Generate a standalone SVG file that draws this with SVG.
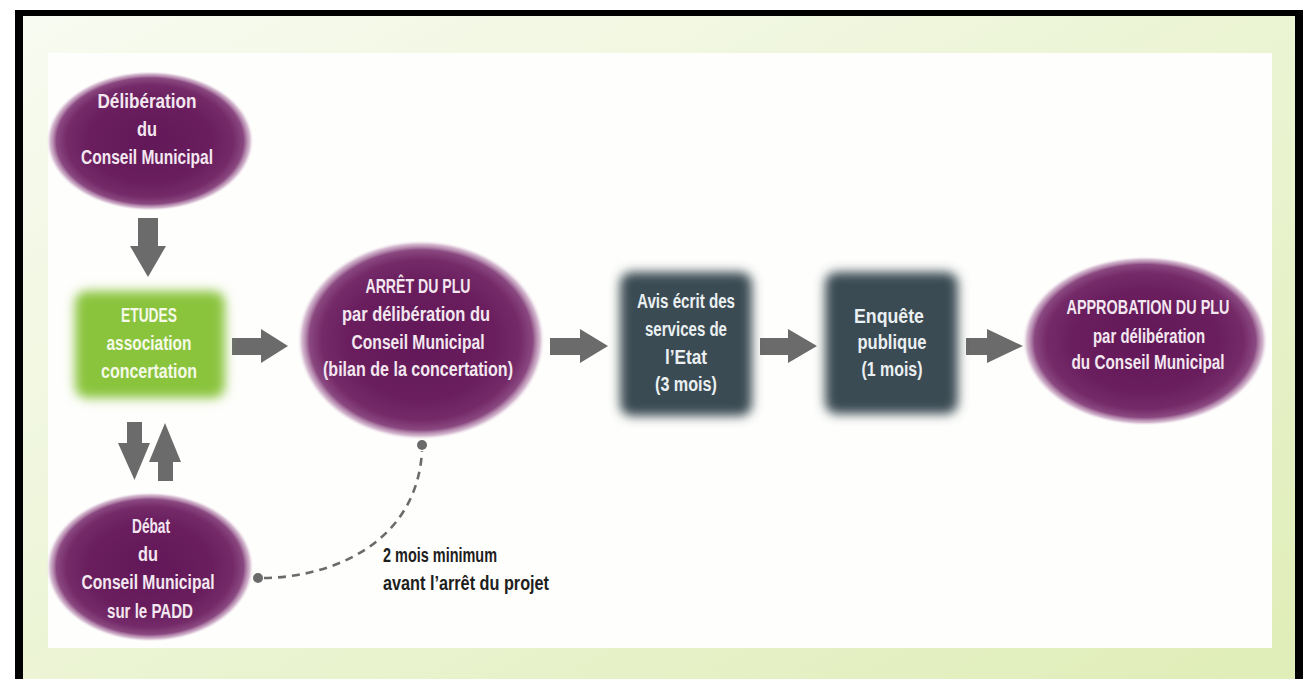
<svg xmlns="http://www.w3.org/2000/svg" width="1310" height="679" viewBox="0 0 1310 679">
  <defs>
    <linearGradient id="bgG" x1="0" y1="0" x2="1" y2="1">
      <stop offset="0" stop-color="#f8fbf1"/>
      <stop offset="1" stop-color="#dfedb6"/>
    </linearGradient>
    <radialGradient id="purG" cx="0.5" cy="0.5" r="0.5">
      <stop offset="0" stop-color="#621758"/>
      <stop offset="0.6" stop-color="#6a1e5e"/>
      <stop offset="0.8" stop-color="#742a68"/>
      <stop offset="0.9" stop-color="#8a4880"/>
      <stop offset="0.96" stop-color="#c39cbd" stop-opacity="0.7"/>
      <stop offset="1" stop-color="#ffffff" stop-opacity="0"/>
    </radialGradient>
    <filter id="blur" x="-20%" y="-20%" width="140%" height="140%">
      <feGaussianBlur stdDeviation="5.5"/>
    </filter>
    <style>
      .t { font-family: "Liberation Sans Narrow", "Liberation Sans", Arial, sans-serif; font-weight: bold; font-size: 20px; text-anchor: middle; }
      .tp { fill: #f3e7f0; }
      .tg { fill: #f5f9e8; }
      .td { fill: #eaf0f2; }
      .cap { font-family: "Liberation Sans Narrow", "Liberation Sans", Arial, sans-serif; font-weight: bold; font-size: 20px; fill: #1e1e1e; }
      .arr { fill: #6b6b6b; }
      .dash { fill: none; stroke: #6b6b6b; stroke-width: 2.6; stroke-dasharray: 8 6; }
      .dot { fill: #6b6b6b; }
    </style>
  </defs>

  <!-- frame -->
  <rect x="0" y="0" width="1310" height="679" fill="#ffffff"/>
  <rect x="15" y="10" width="1288" height="700" fill="#000000"/>
  <rect x="23" y="16" width="1272" height="700" fill="url(#bgG)"/>
  <rect x="48" y="53" width="1224" height="595" fill="#fefefc"/>

  <!-- connectors -->
  <g id="connectors">
    <polygon class="arr" points="138,218 158,218 158,246 166,246 148,277 130,246 138,246"/>
    <polygon class="arr" points="127,422 142,422 142,443 150,443 134.5,480 118,443 127,443"/>
    <polygon class="arr" points="158,481 173,481 173,462 181,462 165,423 149,462 158,462"/>
    <polygon class="arr" points="232,338 261,338 261,329 288,346 261,363 261,355 232,355"/>
    <polygon class="arr" points="550,338 580,338 580,329 608,346 580,363 580,355 550,355"/>
    <polygon class="arr" points="760,338 788,338 788,329 817,346 788,363 788,355 760,355"/>
    <polygon class="arr" points="966,338 987,338 987,329 1023,346 987,363 987,355 966,355"/>
    <path class="dash" d="M264,578 C335,577 417,541 422,451"/>
    <circle class="dot" cx="258" cy="578" r="5"/>
    <circle class="dot" cx="422" cy="445" r="5"/>
  </g>

  <!-- nodes -->
  <g id="n-deliberation">
    <ellipse cx="150" cy="141" rx="104" ry="70" fill="url(#purG)"/>
    <text class="t tp" x="147" y="108" textLength="99" lengthAdjust="spacingAndGlyphs">Délibération</text>
    <text class="t tp" x="147" y="136" textLength="20" lengthAdjust="spacingAndGlyphs">du</text>
    <text class="t tp" x="147" y="164" textLength="132" lengthAdjust="spacingAndGlyphs">Conseil Municipal</text>
  </g>

  <g id="n-etudes">
    <rect x="75" y="291" width="150" height="107" rx="12" fill="#8ac43e" filter="url(#blur)"/>
    <text class="t tg" x="149" y="322" textLength="56" lengthAdjust="spacingAndGlyphs">ETUDES</text>
    <text class="t tg" x="149" y="350" textLength="85" lengthAdjust="spacingAndGlyphs">association</text>
    <text class="t tg" x="149" y="378" textLength="96" lengthAdjust="spacingAndGlyphs">concertation</text>
  </g>

  <g id="n-debat">
    <ellipse cx="150" cy="567" rx="104" ry="75" fill="url(#purG)"/>
    <text class="t tp" x="151" y="533" textLength="38" lengthAdjust="spacingAndGlyphs">Débat</text>
    <text class="t tp" x="148" y="561" textLength="20" lengthAdjust="spacingAndGlyphs">du</text>
    <text class="t tp" x="148" y="589" textLength="133" lengthAdjust="spacingAndGlyphs">Conseil Municipal</text>
    <text class="t tp" x="150" y="618" textLength="86" lengthAdjust="spacingAndGlyphs">sur le PADD</text>
  </g>

  <g id="n-arret">
    <ellipse cx="421" cy="340" rx="124" ry="100" fill="url(#purG)"/>
    <text class="t tp" x="418" y="293" textLength="105" lengthAdjust="spacingAndGlyphs">ARRÊT DU PLU</text>
    <text class="t tp" x="416" y="321" textLength="148" lengthAdjust="spacingAndGlyphs">par délibération du</text>
    <text class="t tp" x="418" y="349" textLength="133" lengthAdjust="spacingAndGlyphs">Conseil Municipal</text>
    <text class="t tp" x="418" y="376" textLength="190" lengthAdjust="spacingAndGlyphs">(bilan de la concertation)</text>
  </g>

  <g id="n-avis">
    <rect x="620" y="272" width="132" height="144" rx="12" fill="#3b4c53" filter="url(#blur)"/>
    <text class="t td" x="686" y="308" textLength="98" lengthAdjust="spacingAndGlyphs">Avis écrit des</text>
    <text class="t td" x="686" y="336" textLength="82" lengthAdjust="spacingAndGlyphs">services de</text>
    <text class="t td" x="686" y="364" textLength="42" lengthAdjust="spacingAndGlyphs">l’Etat</text>
    <text class="t td" x="686" y="391" textLength="62" lengthAdjust="spacingAndGlyphs">(3 mois)</text>
  </g>

  <g id="n-enquete">
    <rect x="825" y="272" width="133" height="142" rx="12" fill="#3b4c53" filter="url(#blur)"/>
    <text class="t td" x="889" y="323" textLength="70" lengthAdjust="spacingAndGlyphs">Enquête</text>
    <text class="t td" x="892" y="349" textLength="69" lengthAdjust="spacingAndGlyphs">publique</text>
    <text class="t td" x="892" y="376" textLength="61" lengthAdjust="spacingAndGlyphs">(1 mois)</text>
  </g>

  <g id="n-approbation">
    <ellipse cx="1145" cy="341" rx="123" ry="85" fill="url(#purG)"/>
    <text class="t tp" x="1148" y="314" textLength="163" lengthAdjust="spacingAndGlyphs">APPROBATION DU PLU</text>
    <text class="t tp" x="1149" y="343" textLength="112" lengthAdjust="spacingAndGlyphs">par délibération</text>
    <text class="t tp" x="1148" y="369" textLength="153" lengthAdjust="spacingAndGlyphs">du Conseil Municipal</text>
  </g>

  <g id="caption">
    <text class="cap" x="383" y="562" textLength="114" lengthAdjust="spacingAndGlyphs">2 mois minimum</text>
    <text class="cap" x="383" y="590" textLength="166" lengthAdjust="spacingAndGlyphs">avant l’arrêt du projet</text>
  </g>
</svg>
